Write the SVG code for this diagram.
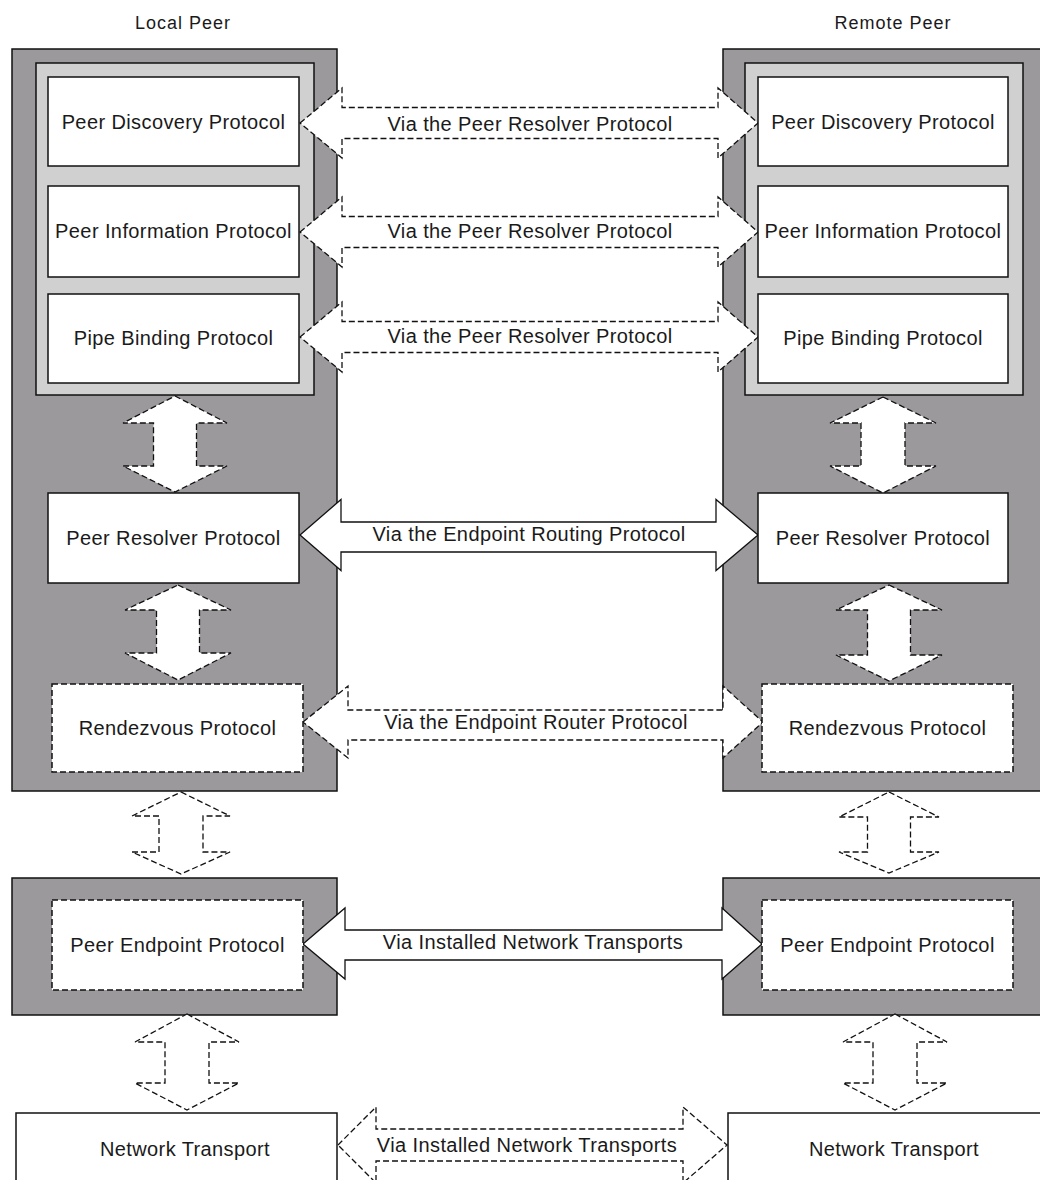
<svg xmlns="http://www.w3.org/2000/svg" width="1040" height="1180" viewBox="0 0 1040 1180">
<style>
.grey{fill:#9c999c;stroke:#111;stroke-width:1.5}
.light{fill:#d0d0d0;stroke:#111;stroke-width:1.5}
.box{fill:#fff;stroke:#111;stroke-width:1.5}
.dbox{fill:#fff;stroke:#111;stroke-width:1.5;stroke-dasharray:6 3}
.arr{fill:#fff;stroke:#111;stroke-width:1.3;stroke-linejoin:miter}
.darr{fill:#fff;stroke:#111;stroke-width:1.3;stroke-dasharray:6 3}
text{font-family:"Liberation Sans",Arial,Helvetica,sans-serif;fill:#1a1a1a;text-anchor:middle}
.lbl{font-size:20px;letter-spacing:0.4px}
.hdr{font-size:18px;letter-spacing:1px}
</style>
<rect width="1040" height="1180" fill="#fff"/>

<g id="local-peer">
  <text class="hdr" x="183" y="29">Local Peer</text>
  <rect class="grey" x="12" y="49" width="325" height="742"/>
  <rect class="light" x="36" y="63" width="278" height="332"/>
</g>
<g id="remote-peer">
  <text class="hdr" x="893" y="29">Remote Peer</text>
  <rect class="grey" x="723" y="49" width="330" height="742"/>
  <rect class="light" x="745" y="63" width="278" height="332"/>
</g>
<g id="local-endpoint-layer"><rect class="grey" x="12" y="878" width="325" height="137"/></g>
<g id="remote-endpoint-layer"><rect class="grey" x="723" y="878" width="330" height="137"/></g>

<g id="connectors">
  <path class="darr" d="M300,123 L342,88 L342,107.5 L718,107.5 L718,88 L758,123 L718,158 L718,138.5 L342,138.5 L342,158 Z"/>
  <text class="lbl" x="530" y="131">Via the Peer Resolver Protocol</text>
  <path class="darr" d="M300,232 L342,197 L342,216.5 L718,216.5 L718,197 L758,232 L718,267 L718,247.5 L342,247.5 L342,267 Z"/>
  <text class="lbl" x="530" y="238">Via the Peer Resolver Protocol</text>
  <path class="darr" d="M300,337 L342,302 L342,321.5 L718,321.5 L718,302 L758,337 L718,372 L718,352.5 L342,352.5 L342,372 Z"/>
  <text class="lbl" x="530" y="343">Via the Peer Resolver Protocol</text>
  <path class="arr" d="M300,535 L341,499.5 L341,522 L716,522 L716,499.5 L758,535 L716,570.5 L716,552 L341,552 L341,570.5 Z"/>
  <text class="lbl" x="529" y="541">Via the Endpoint Routing Protocol</text>
  <path class="darr" d="M303,722 L348,686 L348,710 L723,710 L723,686 L763,722 L723,758 L723,740 L348,740 L348,758 Z"/>
  <text class="lbl" x="536" y="729">Via the Endpoint Router Protocol</text>
  <path class="arr" d="M303,944 L345,908 L345,930 L722,930 L722,908 L762,944 L722,979 L722,960 L345,960 L345,979 Z"/>
  <text class="lbl" x="533" y="949">Via Installed Network Transports</text>
  <path class="darr" d="M338,1145 L376,1107 L376,1129 L683,1129 L683,1107 L727,1145 L683,1183 L683,1161 L376,1161 L376,1183 Z"/>
  <text class="lbl" x="527" y="1152">Via Installed Network Transports</text>

  <path class="darr" d="M175,396 L227,423 L196.5,423 L196.5,466 L227,466 L175,492 L123,466 L153.5,466 L153.5,423 L123,423 Z"/>
  <path class="darr" d="M178,585 L231,610 L199.5,610 L199.5,653 L231,653 L178,680 L125,653 L156.5,653 L156.5,610 L125,610 Z"/>
  <path class="darr" d="M181,792 L230,816 L203,816 L203,852 L230,852 L181,874 L132,852 L159,852 L159,816 L132,816 Z"/>
  <path class="darr" d="M187,1014 L239,1042 L209,1042 L209,1083 L239,1083 L187,1110 L135,1083 L165,1083 L165,1042 L135,1042 Z"/>
  <path class="darr" d="M883,397 L936,423 L905,423 L905,466 L936,466 L883,493 L830,466 L861,466 L861,423 L830,423 Z"/>
  <path class="darr" d="M889,585 L942,610 L910.5,610 L910.5,655 L942,655 L889,681 L836,655 L867.5,655 L867.5,610 L836,610 Z"/>
  <path class="darr" d="M889,792 L939,817 L910.5,817 L910.5,852 L939,852 L889,873 L839,852 L867.5,852 L867.5,817 L839,817 Z"/>
  <path class="darr" d="M895,1014 L947,1042 L917,1042 L917,1083 L947,1083 L895,1110 L843,1083 L873,1083 L873,1042 L843,1042 Z"/>
</g>

<g id="local-pdp"><rect class="box" x="48" y="77" width="251" height="89"/><text class="lbl" x="173.5" y="129">Peer Discovery Protocol</text></g>
<g id="local-pip"><rect class="box" x="48" y="186" width="251" height="91"/><text class="lbl" x="173.5" y="238">Peer Information Protocol</text></g>
<g id="local-pbp"><rect class="box" x="48" y="294" width="251" height="89"/><text class="lbl" x="173.5" y="345">Pipe Binding Protocol</text></g>
<g id="local-prp"><rect class="box" x="48" y="493" width="251" height="90"/><text class="lbl" x="173.5" y="545">Peer Resolver Protocol</text></g>
<g id="local-rvp"><rect class="dbox" x="52" y="684" width="251" height="88"/><text class="lbl" x="177.5" y="735">Rendezvous Protocol</text></g>
<g id="local-pep"><rect class="dbox" x="52" y="900" width="251" height="90"/><text class="lbl" x="177.5" y="952">Peer Endpoint Protocol</text></g>
<g id="local-nt"><rect class="box" x="16" y="1113" width="321" height="80"/><text class="lbl" x="185" y="1156">Network Transport</text></g>

<g id="remote-pdp"><rect class="box" x="758" y="77" width="250" height="89"/><text class="lbl" x="883" y="129">Peer Discovery Protocol</text></g>
<g id="remote-pip"><rect class="box" x="758" y="186" width="250" height="91"/><text class="lbl" x="883" y="238">Peer Information Protocol</text></g>
<g id="remote-pbp"><rect class="box" x="758" y="294" width="250" height="89"/><text class="lbl" x="883" y="345">Pipe Binding Protocol</text></g>
<g id="remote-prp"><rect class="box" x="758" y="493" width="250" height="90"/><text class="lbl" x="883" y="545">Peer Resolver Protocol</text></g>
<g id="remote-rvp"><rect class="dbox" x="762" y="684" width="251" height="88"/><text class="lbl" x="887.5" y="735">Rendezvous Protocol</text></g>
<g id="remote-pep"><rect class="dbox" x="762" y="900" width="251" height="90"/><text class="lbl" x="887.5" y="952">Peer Endpoint Protocol</text></g>
<g id="remote-nt"><rect class="box" x="728" y="1113" width="330" height="80"/><text class="lbl" x="894" y="1156">Network Transport</text></g>
</svg>
